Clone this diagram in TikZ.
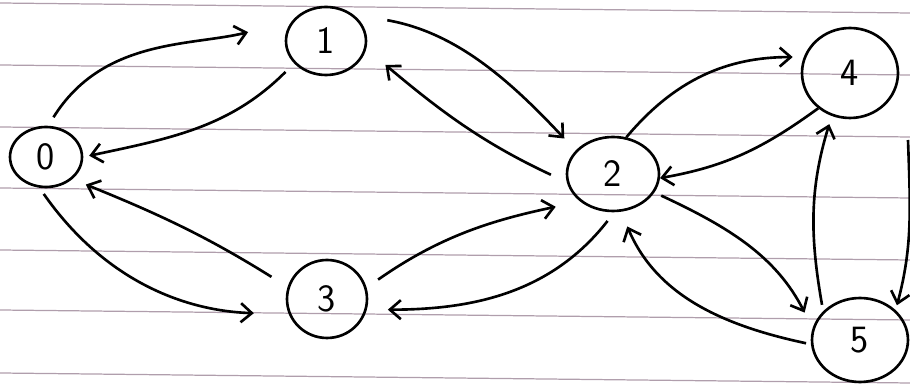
\documentclass[tikz,border=0pt]{standalone}
\usetikzlibrary{arrows.meta,shapes.geometric}
\definecolor{ruling}{RGB}{176,158,172}

\begin{document}
\begin{tikzpicture}[x=0.02cm,y=0.02cm,
    vtx/.style={ellipse,draw,line width=1.5pt,inner sep=0pt,font=\sffamily\fontsize{22}{22}\selectfont},
    arc/.style={-{Straight Barb[length=2.2mm,width=3.8mm]},line width=1.5pt},
    ruled/.style={ruling,line width=0.7pt}]
  \useasboundingbox (0,0) rectangle (910,385);
  \clip (0,0) rectangle (910,385);
  \foreach \y in {382,320,258,197,135,75,12}
    \draw[ruled] (0,\y) -- (910,\y-10);
  \node[vtx,minimum width=1.44cm,minimum height=1.2cm] (n0) at (46,228) {0};
  \node[vtx,minimum width=1.6cm,minimum height=1.36cm] (n1) at (326,344) {1};
  \node[vtx,minimum width=1.84cm,minimum height=1.48cm] (n2) at (613,211) {2};
  \node[vtx,minimum width=1.6cm,minimum height=1.56cm] (n3) at (327,86) {3};
  \node[vtx,minimum width=1.92cm,minimum height=1.8cm] (n4) at (850,312) {4};
  \node[vtx,minimum width=1.92cm,minimum height=1.68cm] (n5) at (860,45) {5};
  \coordinate (e4) at (908,245);
  \draw[arc,shorten <=2mm,shorten >=9mm] (n0.86) to[out=58,in=194] (n1.150);
  \draw[arc,shorten <=2.4mm,shorten >=1.2mm] (n1.215) to[out=225,in=12] (n0.0);
  \draw[arc,shorten <=7mm,shorten >=3.3mm] (n1.45) to[out=-10,in=133] (n2.148);
  \draw[arc,shorten <=3.5mm,shorten >=5mm] (n2.190) to[out=155,in=-40] (n1.-11);
  \draw[arc,shorten <=1.5mm,shorten >=7mm] (n0.258) to[out=-55,in=178] (n3.202);
  \draw[arc,shorten <=3.8mm,shorten >=2.9mm] (n3.163) to[out=148,in=-22] (n0.-40);
  \draw[arc,shorten <=2.8mm,shorten >=5mm] (n3.16) to[out=35,in=192] (n2.220);
  \draw[arc,shorten <=2.2mm,shorten >=4.2mm] (n2.272) to[out=232,in=0] (n3.-15);
  \draw[arc,shorten >=2.2mm] (n2.70) to[out=50,in=180] (n4.161);
  \draw[arc] (n4.228) to[out=216,in=10] (n2.-5);
  \draw[arc,shorten <=1.3mm,shorten >=1.7mm] (n5.142) to[out=100,in=253] (n4.247);
  \draw[arc,shorten >=1mm] (e4) to[out=-88,in=75] (n5.40);
  \draw[arc,shorten <=1.5mm,shorten >=3.5mm] (n2.-24) to[out=-25,in=117] (n5.166);
  \draw[arc,shorten <=1mm,shorten >=3.2mm] (n5.185) to[out=168,in=-67] (n2.-78);
\end{tikzpicture}
\end{document}
